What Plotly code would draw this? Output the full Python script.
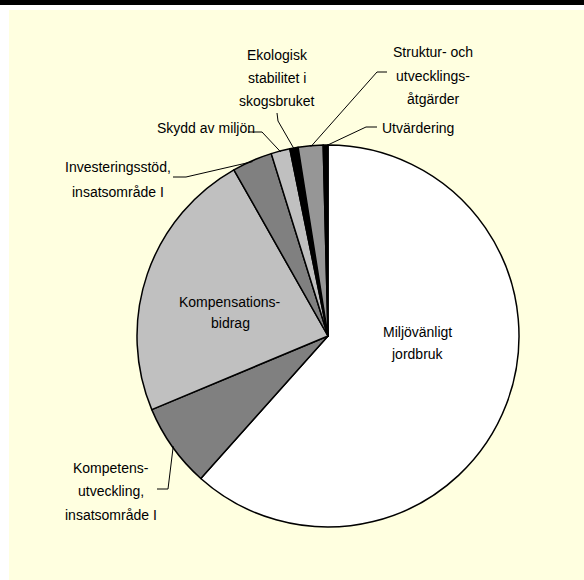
import math
import plotly.graph_objects as go

# ---- data ----
labels = [
    "Miljövänligt jordbruk",
    "Kompetensutveckling, insatsområde I",
    "Kompensationsbidrag",
    "Investeringsstöd, insatsområde I",
    "Skydd av miljön",
    "Ekologisk stabilitet i skogsbruket",
    "Struktur- och utvecklingsåtgärder",
    "Utvärdering",
]
values = [61.6, 7.1, 23.1, 3.4, 1.6, 0.7, 2.1, 0.4]
colors = ["#FFFFFF", "#808080", "#C0C0C0", "#808080", "#C0C0C0", "#000000", "#969696", "#000000"]
display_lines = [
    ["Miljövänligt", "jordbruk"],
    ["Kompetens-", "utveckling,", "insatsområde I"],
    ["Kompensations-", "bidrag"],
    ["Investeringsstöd,", "insatsområde I"],
    ["Skydd av miljön"],
    ["Ekologisk", "stabilitet i", "skogsbruket"],
    ["Struktur- och", "utvecklings-", "åtgärder"],
    ["Utvärdering"],
]

# ---- layout constants (pixels) ----
W, H = 584, 580
CX, CY, R = 328, 336, 191
FONT = "Liberation Sans, Arial, sans-serif"
FS = 14

def px(x):
    return x / W

def py(y):
    return 1 - y / H

fig = go.Figure(go.Pie(
    labels=labels,
    values=values,
    sort=False,
    direction="clockwise",
    rotation=0,
    marker=dict(colors=colors, line=dict(color="#000000", width=1.5)),
    textinfo="none",
    hoverinfo="label+percent",
    showlegend=False,
    domain=dict(x=[px(CX - R), px(CX + R)], y=[py(CY + R), py(CY - R)]),
))

# label placements: x, first-line y, line step, anchor
label_pos = [
    (417, 332, 22, "center"),
    (111, 468, 23.5, "center"),
    (230, 302, 21, "center"),
    (118, 167, 25, "center"),
    (206, 128, 0, "center"),
    (277, 55, 23, "center"),
    (433, 52, 23.5, "center"),
    (380, 128, 0, "left"),
]
leader_bends = [
    None,
    [(157, 489), (168, 489)],
    None,
    [(173, 177), (186, 177)],
    [(248, 132), (262, 132)],
    [(277, 113), (278, 121)],
    [(387, 72), (377, 72)],
    [(377, 127), (366, 127)],
]

total = sum(values)
cum = 0.0
shapes = [
    dict(type="rect", xref="paper", yref="paper", x0=px(9), x1=1, y0=0, y1=py(10),
         fillcolor="#FFFFE0", line=dict(width=0), layer="below"),
    dict(type="rect", xref="paper", yref="paper", x0=0, x1=1, y0=py(5), y1=1,
         fillcolor="#000000", line=dict(width=0), layer="below"),
]
annotations = []
for i, v in enumerate(values):
    mid = (cum + v / 2) / total * 2 * math.pi
    cum += v
    ex = CX + (R - 1) * math.sin(mid)
    ey = CY - (R - 1) * math.cos(mid)
    lx, ly, step, anc = label_pos[i]
    for k, line in enumerate(display_lines[i]):
        annotations.append(dict(
            x=px(lx), y=py(ly + k * step), xref="paper", yref="paper", text=line,
            showarrow=False, xanchor=anc, yanchor="middle", align="center",
            font=dict(family=FONT, size=FS, color="#000000"),
        ))
    if leader_bends[i]:
        pts = leader_bends[i] + [(ex, ey)]
        path = "M " + " L ".join(f"{px(x)},{py(y)}" for x, y in pts)
        shapes.append(dict(type="path", xref="paper", yref="paper", path=path,
                           line=dict(color="#000000", width=1)))

fig.update_layout(
    width=W, height=H,
    margin=dict(l=0, r=0, t=0, b=0),
    paper_bgcolor="#FFFFFF",
    plot_bgcolor="#FFFFFF",
    shapes=shapes,
    annotations=annotations,
)

fig.write_html("out.html", config={"displayModeBar": False},
               post_script="document.body.style.margin='0';")
